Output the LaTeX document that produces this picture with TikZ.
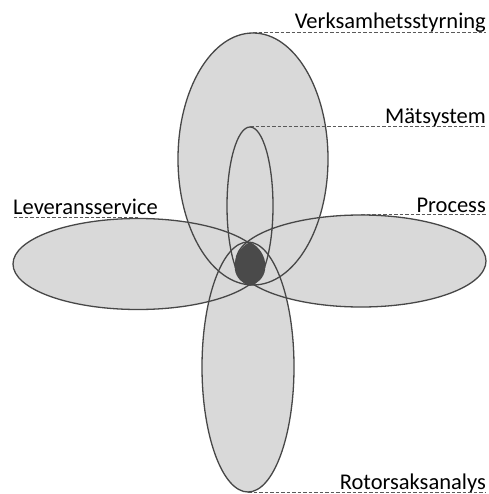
\documentclass[tikz,border=0pt]{standalone}
\usepackage{fontspec}
\setmainfont{Carlito}
\usepackage{xcolor}
\usepackage{tikz}
\usetikzlibrary{shapes.geometric, backgrounds}

\definecolor{petalgray}{HTML}{D9D9D9}
\definecolor{rimgray}{HTML}{474747}
\definecolor{coregray}{HTML}{4A4A4A}

\begin{document}
\begin{tikzpicture}[
  x=1pt, y=1pt,
  font=\fontsize{22.5}{27}\selectfont,
  petalbg/.style={ellipse, fill=petalgray, inner sep=0pt},
  petal/.style={ellipse, draw=rimgray, line width=1.3pt, inner sep=0pt},
  lab/.style={inner sep=0pt, text=black},
  leader/.style={draw=black!65, line width=1pt, dash pattern=on 3.5pt off 2pt}
]
\useasboundingbox (0,0) rectangle (488,-494);
% fills first
\node[petalbg, minimum width=150pt, minimum height=252pt] (vsBg) at (253,-159) {};
\node[petalbg, minimum width=250pt, minimum height=91pt]  (lvBg) at (138,-264) {};
\node[petalbg, minimum width=250pt, minimum height=92pt]  (prBg) at (361,-261) {};
\node[petalbg, minimum width=92pt,  minimum height=250pt] (raBg) at (248,-367) {};
% outlines
\node[petal, minimum width=150pt, minimum height=252pt] (vs) at (253,-159) {};
\node[petal, minimum width=46pt,  minimum height=158pt] (ms) at (250,-206) {};
\node[petal, minimum width=250pt, minimum height=91pt]  (lv) at (138,-264) {};
\node[petal, minimum width=250pt, minimum height=92pt]  (pr) at (361,-261) {};
\node[petal, minimum width=92pt,  minimum height=250pt] (ra) at (248,-367) {};
% core
\fill[coregray] (250,-242) .. controls (230,-252) and (229,-281) .. (250,-285)
  .. controls (271,-281) and (270,-252) .. (250,-242);
% labels
\node[lab, anchor=base east] (vsLab) at (486,-29) {Verksamhetsstyrning};
\node[lab, anchor=base east] (msLab) at (486,-124) {Mätsystem};
\node[lab, anchor=base west] (lvLab) at (13,-214) {Leveransservice};
\node[lab, anchor=base east] (prLab) at (486,-212) {Process};
\node[lab, anchor=base east] (raLab) at (486,-489) {Rotorsaksanalys};
\draw[leader] (vs.north) -- (vs.north -| vsLab.east);
\draw[leader] (ms.north) -- (ms.north -| msLab.east);
\draw[leader] (lv.north) -- (lv.north -| lvLab.west);
\draw[leader] (pr.north) -- (pr.north -| prLab.east);
\draw[leader] (ra.south) -- (ra.south -| raLab.east);
\end{tikzpicture}
\end{document}
